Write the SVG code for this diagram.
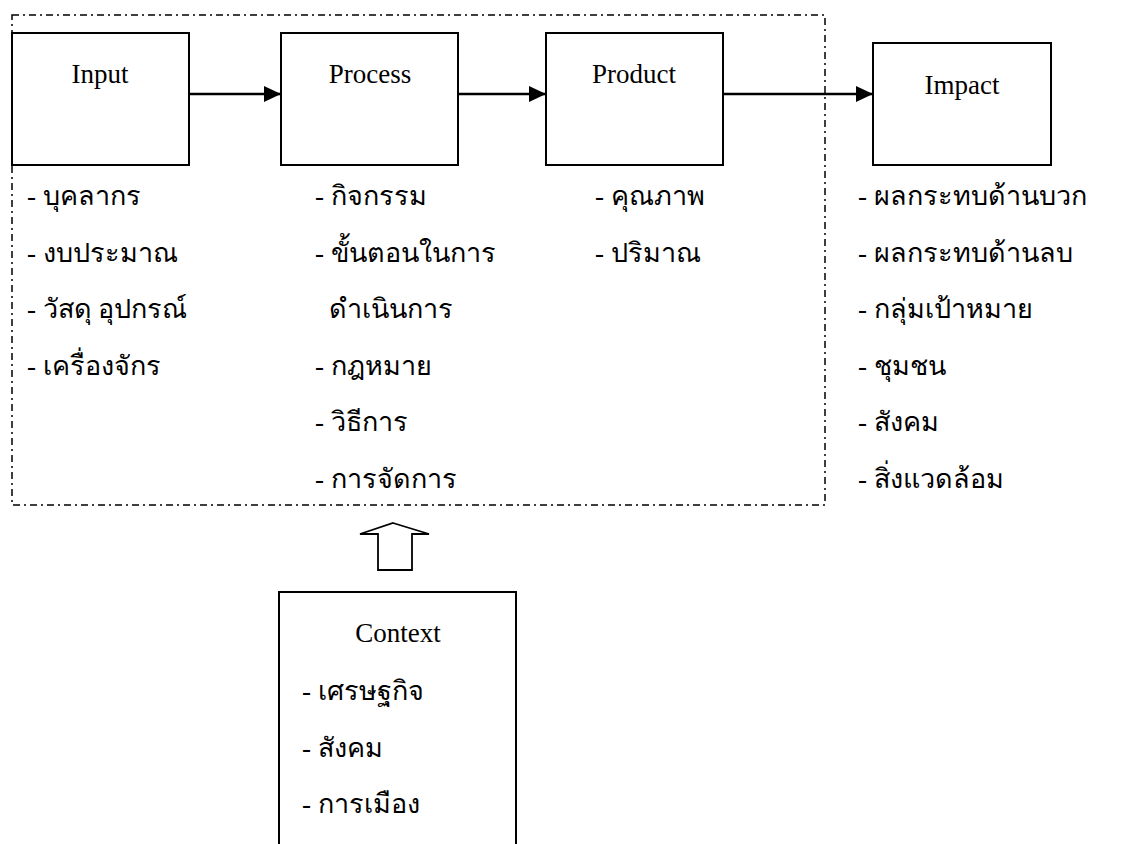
<svg xmlns="http://www.w3.org/2000/svg" width="1126" height="844" viewBox="0 0 1126 844">
<style>
.box{fill:#fff;stroke:#000;stroke-width:2}
.frame{fill:none;stroke:#000;stroke-width:1.5;stroke-dasharray:7 4 2 4}
.lbl{font-family:"Liberation Serif","Times New Roman",serif;font-size:27px;fill:#000}
.th{font-family:"Liberation Serif","Noto Sans",serif;font-size:27px;fill:#000}
.conn{stroke:#000;stroke-width:2.6;fill:none}
</style>
<defs>
<marker id="ah" markerWidth="17" markerHeight="16" refX="17" refY="8" orient="auto" markerUnits="userSpaceOnUse">
<path d="M0,0 L17,8 L0,16 Z" fill="#000"/>
</marker>
</defs>
<rect class="frame" x="12" y="15" width="813" height="490"/>
<g id="input">
<rect class="box" x="12" y="33" width="177" height="132"/>
<text class="lbl" x="100" y="83" text-anchor="middle">Input</text>
<text class="th" x="27" y="205">- บุคลากร</text>
<text class="th" x="27" y="262">- งบประมาณ</text>
<text class="th" x="27" y="318">- วัสดุ อุปกรณ์</text>
<text class="th" x="27" y="375">- เครื่องจักร</text>
</g>
<g id="process">
<rect class="box" x="281" y="33" width="177" height="132"/>
<text class="lbl" x="370" y="83" text-anchor="middle">Process</text>
<text class="th" x="315" y="205">- กิจกรรม</text>
<text class="th" x="315" y="262">- ขั้นตอนในการ</text>
<text class="th" x="329" y="318">ดำเนินการ</text>
<text class="th" x="315" y="375">- กฎหมาย</text>
<text class="th" x="315" y="431">- วิธีการ</text>
<text class="th" x="315" y="488">- การจัดการ</text>
</g>
<g id="product">
<rect class="box" x="546" y="33" width="177" height="132"/>
<text class="lbl" x="634" y="83" text-anchor="middle">Product</text>
<text class="th" x="595" y="205">- คุณภาพ</text>
<text class="th" x="595" y="262">- ปริมาณ</text>
</g>
<g id="impact">
<rect class="box" x="873" y="43" width="178" height="122"/>
<text class="lbl" x="962" y="94" text-anchor="middle">Impact</text>
<text class="th" x="858" y="205">- ผลกระทบด้านบวก</text>
<text class="th" x="858" y="262">- ผลกระทบด้านลบ</text>
<text class="th" x="858" y="318">- กลุ่มเป้าหมาย</text>
<text class="th" x="858" y="375">- ชุมชน</text>
<text class="th" x="858" y="431">- สังคม</text>
<text class="th" x="858" y="488">- สิ่งแวดล้อม</text>
</g>
<g id="context">
<path class="box" d="M279,845 L279,592 L516,592 L516,845"/>
<text class="lbl" x="398" y="642" text-anchor="middle">Context</text>
<text class="th" x="302" y="700">- เศรษฐกิจ</text>
<text class="th" x="302" y="757">- สังคม</text>
<text class="th" x="302" y="813">- การเมือง</text>
</g>
<g id="connectors">
<line class="conn" x1="189" y1="94" x2="281" y2="94" marker-end="url(#ah)"/>
<line class="conn" x1="458" y1="94" x2="546" y2="94" marker-end="url(#ah)"/>
<line class="conn" x1="723" y1="94" x2="873" y2="94" marker-end="url(#ah)"/>
<path d="M393,523 L429,534 L412,534 L412,570 L378,570 L378,534 L360,534 Z" fill="#fff" stroke="#000" stroke-width="1.8" stroke-linejoin="miter"/>
</g>
</svg>
